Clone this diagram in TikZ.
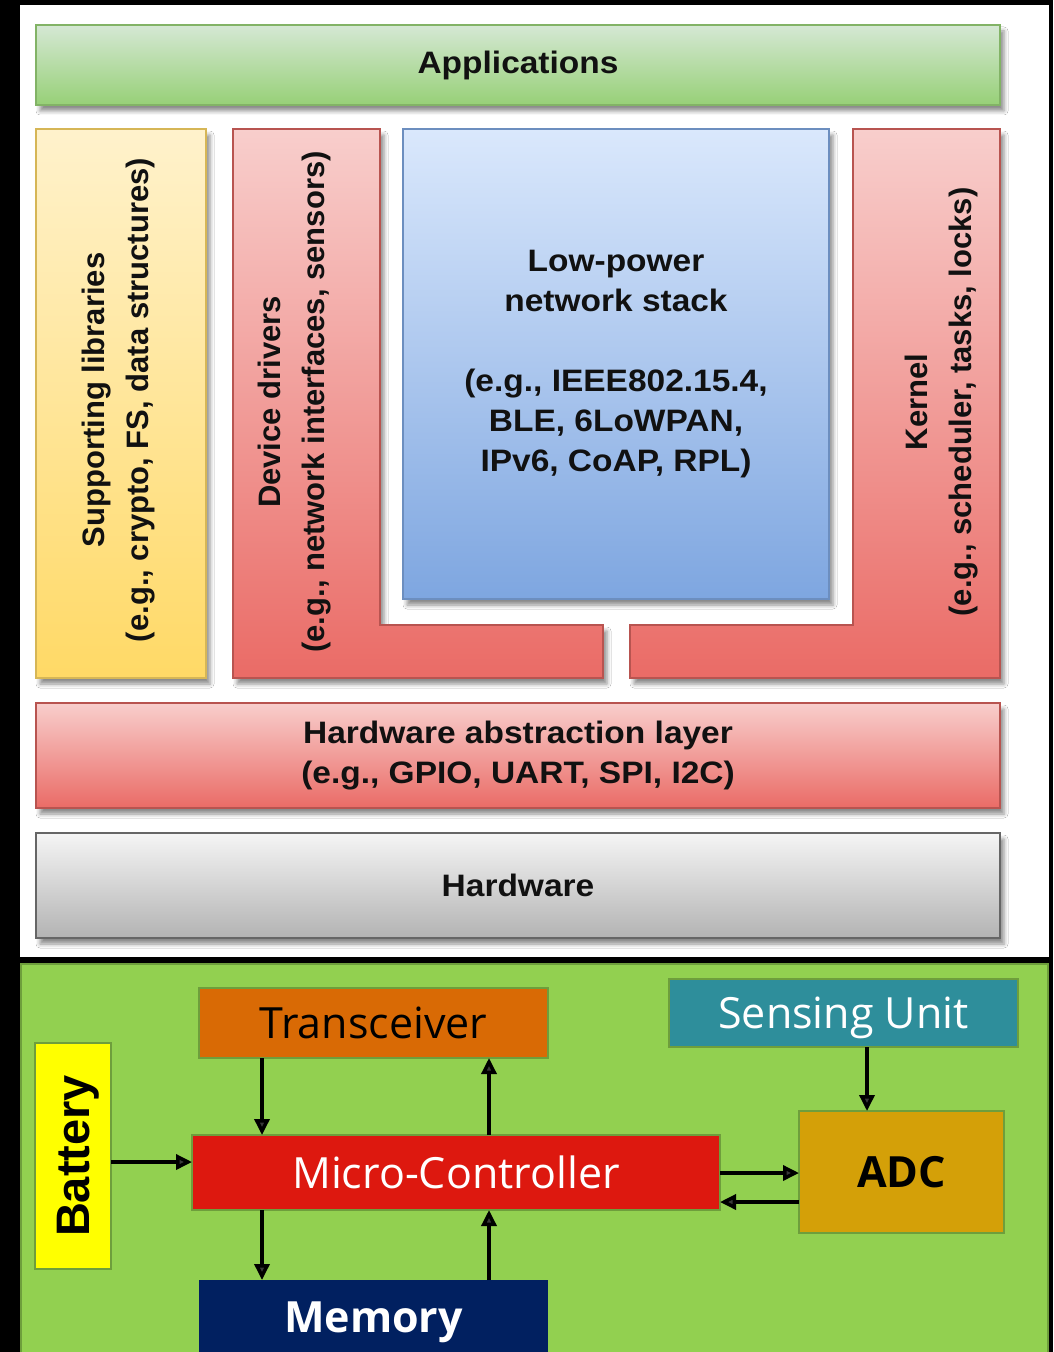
\documentclass[tikz,border=0pt]{standalone}
\usepackage{fontspec}
\setmainfont{Liberation Sans}
\newfontfamily\osans{Open Sans}
\newfontfamily\widesans[FakeStretch=1.08]{Liberation Sans}
\usetikzlibrary{arrows.meta,shadows.blur}

% layer colours (light top / dark bottom / outline)
\definecolor{grT}{HTML}{D5E8D4}\definecolor{grB}{HTML}{97D077}\definecolor{grD}{HTML}{82B366}
\definecolor{ylT}{HTML}{FFF2CC}\definecolor{ylB}{HTML}{FFD966}\definecolor{ylD}{HTML}{D6B656}
\definecolor{rdT}{HTML}{F8CECC}\definecolor{rdB}{HTML}{EA6B66}\definecolor{rdD}{HTML}{B85450}
\definecolor{blT}{HTML}{DAE8FC}\definecolor{blB}{HTML}{7EA6E0}\definecolor{blD}{HTML}{6C8EBF}
\definecolor{gyT}{HTML}{F5F5F5}\definecolor{gyB}{HTML}{B3B3B3}\definecolor{gyD}{HTML}{666666}
\definecolor{inkdark}{HTML}{111111}
% node block colours
\definecolor{panelgreen}{HTML}{92D050}
\definecolor{panelrim}{HTML}{6E9E3C}
\definecolor{trxorange}{HTML}{D96A05}
\definecolor{senseteal}{HTML}{2E8E9B}
\definecolor{mcred}{HTML}{DD180F}
\definecolor{adcgold}{HTML}{D4A008}
\definecolor{memnavy}{HTML}{012060}
\definecolor{batyellow}{HTML}{FFFF00}

\begin{document}
\begin{tikzpicture}[x=1bp,y=-1bp,
  shadowed/.style={blur shadow={shadow xshift=4bp,shadow yshift=-6bp,shadow blur radius=4bp,shadow opacity=45}},
  layer/.style={shadowed,draw,line width=1.5bp,inner sep=0pt,outer sep=0pt,anchor=north west},
  lshape/.style={shadowed,draw,line width=1.5bp},
  greenL/.style={top color=grT,bottom color=grB,draw=grD},
  yellowL/.style={top color=ylT,bottom color=ylB,draw=ylD},
  redL/.style={top color=rdT,bottom color=rdB,draw=rdD},
  blueL/.style={top color=blT,bottom color=blB,draw=blD},
  greyL/.style={top color=gyT,bottom color=gyB,draw=gyD},
  stacktext/.style={font=\widesans\bfseries\fontsize{31bp}{40bp}\selectfont,text=inkdark,align=center},
  sidetext/.style={font=\bfseries\fontsize{31bp}{44bp}\selectfont,text=inkdark,align=center,rotate=90},
  blk/.style={draw=panelrim,line width=2.5bp,inner sep=0pt,outer sep=0pt,anchor=north west,
              text depth=0pt,font=\osans\fontsize{43bp}{50bp}\selectfont},
  arr/.style={line width=3.5bp,-{Triangle[length=16bp,width=15bp]}}
]
\useasboundingbox (0,0) rectangle (1053,1352);
\clip (0,0) rectangle (1053,1352);
\fill[black] (0,0) rectangle (1053,1352);

% ---------- software stack ----------
\fill[white] (20,5) rectangle (1049,957);

\node[layer,greenL,minimum width=964bp,minimum height=80bp,stacktext] (app) at (36,25) {Applications};

\node[layer,yellowL,minimum width=170bp,minimum height=549bp] (lib) at (36,129) {};
\node[sidetext] (libtext) at (119,400) {Supporting libraries\\(e.g., crypto, FS, data structures)};

\path[lshape,redL] (233,129) -- (380,129) -- (380,625) -- (603,625) -- (603,678) -- (233,678) -- cycle;
\node[sidetext] (drvtext) at (295,402) {Device drivers\\(e.g., network interfaces, sensors)};

\node[layer,blueL,minimum width=426bp,minimum height=470bp,stacktext] (net) at (403,129)
  {Low-power\\network stack\\[40bp](e.g., IEEE802.15.4,\\BLE, 6LoWPAN,\\IPv6, CoAP, RPL)};

\path[lshape,redL] (853,129) -- (1000,129) -- (1000,678) -- (630,678) -- (630,625) -- (853,625) -- cycle;
\node[sidetext] (kertext) at (942,402) {Kernel\\(e.g., scheduler, tasks, locks)};

\node[layer,redL,minimum width=964bp,minimum height=105bp,stacktext] (hal) at (36,703)
  {Hardware abstraction layer\\(e.g., GPIO, UART, SPI, I2C)};

\node[layer,greyL,minimum width=964bp,minimum height=105bp,stacktext] (hw) at (36,833) {Hardware};

% ---------- sensor node blocks ----------
\draw[fill=panelgreen,draw=panelrim,line width=2.5bp] (21,964) rectangle (1048,1370);

\node[blk,fill=trxorange,minimum width=349bp,minimum height=70bp,text=black] (trx) at (199,988) {Transceiver};
\node[blk,fill=senseteal,minimum width=349bp,minimum height=68bp,text=white] (sense) at (669,979) {Sensing Unit};
\node[blk,fill=mcred,minimum width=528bp,minimum height=75bp,text=white] (mc) at (192,1135) {Micro-Controller};
\node[blk,fill=adcgold,minimum width=205bp,minimum height=122bp,text=black,font=\osans\bfseries\fontsize{43bp}{50bp}\selectfont] (adc) at (799,1111) {ADC};
\node[blk,draw=none,fill=memnavy,minimum width=349bp,minimum height=74bp,text=white,font=\osans\bfseries\fontsize{43bp}{50bp}\selectfont] (mem) at (199,1280) {Memory};
\node[blk,fill=batyellow,minimum width=76bp,minimum height=226bp] (bat) at (35,1043) {};
\node[rotate=90,text depth=0pt,inner sep=0pt,font=\bfseries\fontsize{47bp}{50bp}\selectfont] (battext) at (bat.center) {Battery};

% connector tracks
\coordinate (xl) at (262,0);
\coordinate (xr) at (489,0);
\coordinate (xs) at (867,0);
\coordinate (yb) at (0,1162);
\coordinate (yh) at (0,1173);
\coordinate (yl) at (0,1202);

\draw[arr] (trx.south -| xl) -- (mc.north -| xl);
\draw[arr] (mc.north -| xr) -- (trx.south -| xr);
\draw[arr] (mc.south -| xl) -- (mem.north -| xl);
\draw[arr] (mem.north -| xr) -- (mc.south -| xr);
\draw[arr] (sense.south -| xs) -- (adc.north -| xs);
\draw[arr] (mc.east |- yh) -- (adc.west |- yh);
\draw[arr] (adc.west |- yl) -- (mc.east |- yl);
\draw[arr] (bat.east |- yb) -- (mc.west |- yb);
\end{tikzpicture}
\end{document}
